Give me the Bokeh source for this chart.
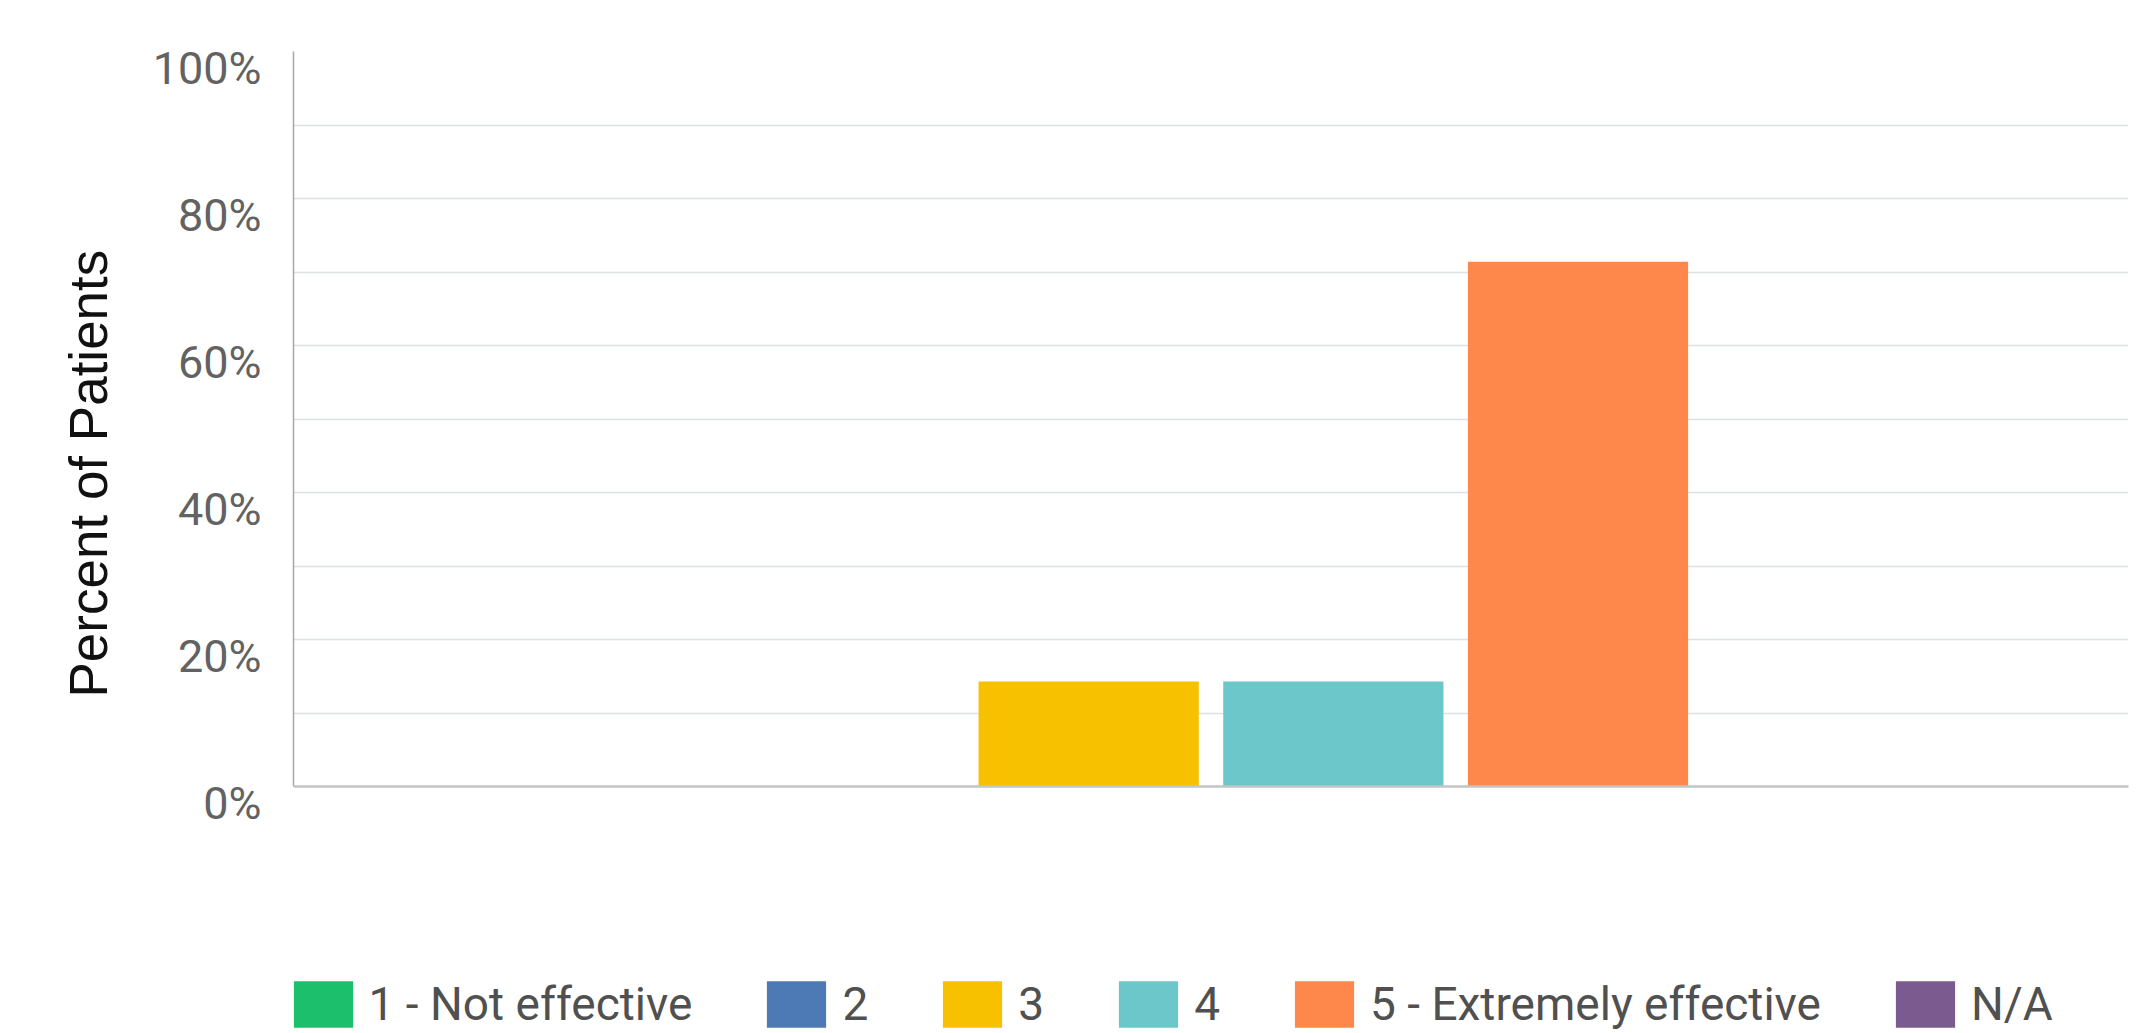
from bokeh.plotting import figure
from bokeh.layouts import column
from bokeh.models import (FactorRange, Range1d, FixedTicker, PrintfTickFormatter, Legend,
                          LegendItem, LinearAxis, Grid, Title)
from bokeh.embed import file_html
from bokeh.resources import INLINE

# ---- data ----
categories = ["1 - Not effective", "2", "3", "4", "5 - Extremely effective", "N/A"]
percents = [0.0, 0.0, 14.3, 14.3, 71.4, 0.0]
colors = ["#1CBF6B", "#4D7AB4", "#F7C100", "#6CC7CB", "#FE884B", "#7B5B8F"]
y_ticks = [0, 20, 40, 60, 80, 100]
grid_ticks = [10, 20, 30, 40, 50, 60, 70, 80, 90]
y_title = "Percent of Patients"

# ---- layout constants ----
W, H = 2156, 1033
LEG_H = 58
MAIN_H = H - LEG_H
LEFT, RIGHT, TOP = 293, 28, 51
BASELINE = 786                     # page y of 0%
LABEL_DROP = 17                    # tick labels sit below their gridline
px_per_unit = (BASELINE - TOP) / 100.0
d = LABEL_DROP / px_per_unit
BOTTOM = MAIN_H - (BASELINE + LABEL_DROP)

p = figure(
    width=W, height=MAIN_H,
    x_range=FactorRange(factors=categories, range_padding=0.25),
    y_range=Range1d(-d, 100),
    output_backend="svg", toolbar_location=None, x_axis_location=None,
    min_border_left=LEFT, min_border_right=RIGHT, min_border_top=TOP, min_border_bottom=BOTTOM,
)
p.outline_line_color = None
p.background_fill_color = "white"
p.border_fill_color = "white"
p.extra_y_ranges = {"lab": Range1d(0, 100 + d)}

for cat, val, col in zip(categories, percents, colors):
    p.vbar(x=[cat], top=[val], width=0.9, fill_color=col, line_color=None)

# grid
p.xgrid.grid_line_color = None
p.ygrid.ticker = FixedTicker(ticks=grid_ticks)
p.ygrid.grid_line_color = "#dce1e1"
p.ygrid.grid_line_width = 1.5
base = Grid(dimension=1, ticker=FixedTicker(ticks=[0]), grid_line_color="#c4c4c4",
            grid_line_width=2.5, level="overlay")
p.add_layout(base, "center")

# main y axis: the line only
ya = p.yaxis[0]
ya.bounds = (0, 100)
ya.ticker = FixedTicker(ticks=[])
ya.major_tick_line_color = None
ya.minor_tick_line_color = None
ya.major_tick_out = 0
ya.major_label_standoff = 0
ya.axis_line_color = "#a8a8a8"
ya.axis_line_width = 1.5

# tick label axis
la = LinearAxis(y_range_name="lab")
la.ticker = FixedTicker(ticks=y_ticks)
la.formatter = PrintfTickFormatter(format="%d%%")
la.axis_line_color = None
la.major_tick_line_color = None
la.minor_tick_line_color = None
la.major_tick_out = 0
la.major_label_standoff = 32
la.major_label_text_font = "Roboto"
la.major_label_text_font_size = "45px"
la.major_label_text_color = "#626262"
p.add_layout(la, "left")

# y title
ttl = Title(text=y_title, align="left", offset=106, standoff=64,
            text_font="Liberation Sans", text_font_style="normal",
            text_font_size="53px", text_color="#111111")
p.add_layout(ttl, "left")

# ---- legend strip ----
GW, GH = 74, 58                     # legend swatch box (bokeh insets the swatch by 10%)
leg = figure(
    width=W, height=LEG_H,
    x_range=FactorRange(factors=categories), y_range=Range1d(0, 1),
    output_backend="svg", toolbar_location=None,
    x_axis_location=None, y_axis_location=None,
    min_border_left=LEFT, min_border_right=RIGHT, min_border_top=0, min_border_bottom=0,
)
leg.outline_line_color = None
leg.xgrid.grid_line_color = None
leg.ygrid.grid_line_color = None
items = []
for cat, val, col in zip(categories, percents, colors):
    r = leg.vbar(x=[cat], top=[0], width=0.9, fill_color=col, line_color=None)
    items.append(LegendItem(label=cat, renderers=[r]))
legend = Legend(
    items=items, orientation="horizontal", location=(-0.1 * GW, LEG_H - GH),
    glyph_width=GW, glyph_height=GH, label_standoff=9, spacing=67,
    padding=0, margin=0, border_line_color=None, background_fill_alpha=0,
    label_text_font="Roboto", label_text_font_size="46px", label_text_color="#505050",
)
leg.add_layout(legend, "center")

open("out.html", "w").write(file_html(column(p, leg, spacing=0), INLINE))
